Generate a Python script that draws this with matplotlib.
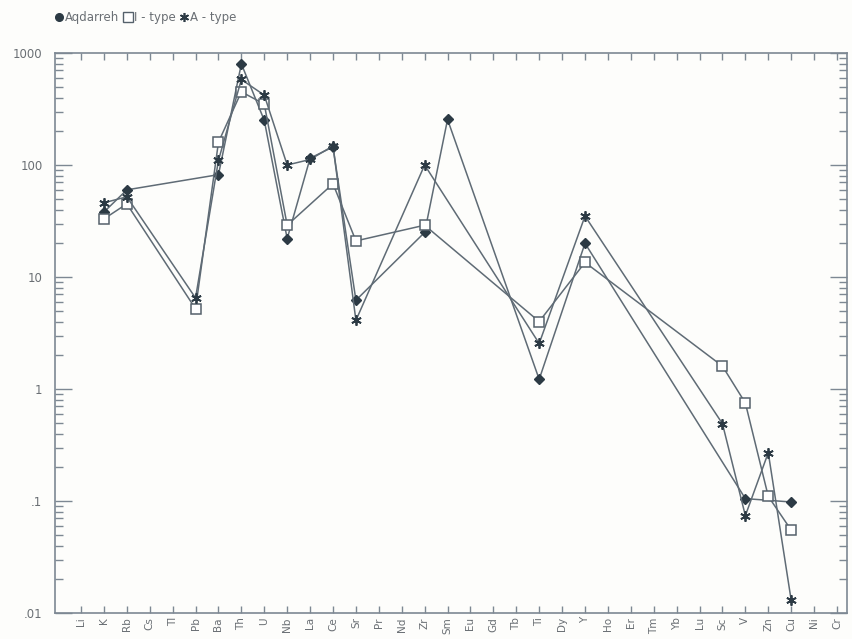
import numpy as np
import matplotlib
matplotlib.use("Agg")
import matplotlib.pyplot as plt
from matplotlib.lines import Line2D
from matplotlib.ticker import LogLocator, FixedLocator, NullFormatter

elements = ['Li', 'K', 'Rb', 'Cs', 'Tl', 'Pb', 'Ba', 'Th', 'U', 'Nb', 'La', 'Ce', 'Sr',
            'Pr', 'Nd', 'Zr', 'Sm', 'Eu', 'Gd', 'Tb', 'Ti', 'Dy', 'Y', 'Ho', 'Er', 'Tm',
            'Yb', 'Lu', 'Sc', 'V', 'Zn', 'Cu', 'Ni', 'Cr']

aqdarreh_el = ['K', 'Rb', 'Ba', 'Th', 'U', 'Nb', 'La', 'Ce', 'Sr', 'Zr', 'Sm', 'Ti', 'Y', 'V', 'Cu']
aqdarreh_val = [38, 60, 82, 800, 250, 22, 115, 145, 6.2, 25, 255, 1.22, 20, 0.105, 0.098]

itype_el = ['K', 'Rb', 'Pb', 'Ba', 'Th', 'U', 'Nb', 'Ce', 'Sr', 'Zr', 'Ti', 'Y', 'Sc', 'V', 'Zn', 'Cu']
itype_val = [33, 45, 5.2, 160, 450, 350, 29, 68, 21, 29, 4.0, 13.5, 1.6, 0.75, 0.11, 0.055]

atype_el = ['K', 'Rb', 'Pb', 'Ba', 'Th', 'U', 'Nb', 'La', 'Ce', 'Sr', 'Zr', 'Ti', 'Y', 'Sc', 'V', 'Zn', 'Cu']
atype_val = [46, 52, 6.5, 110, 580, 420, 100, 112, 148, 4.1, 100, 2.55, 35, 0.49, 0.074, 0.27, 0.013]

ytick_vals = [0.01, 0.1, 1, 10, 100, 1000]
ytick_labels = ['.01', '.1', '1', '10', '100', '1000']

LINE = '#5f6b75'
DARK = '#2c3a44'
FRAME = '#7d8893'
TEXT = '#6a6f74'

fig = plt.figure(figsize=(8.53, 6.39), dpi=100, facecolor='#fdfdfb')
ax = fig.add_axes([55/853, 1-613/639, 792/853, 560/639])
ax.set_facecolor('#fdfdfb')

pos = {e: i for i, e in enumerate(elements)}

def xs(els):
    return [pos[e] for e in els]

ax.plot(xs(aqdarreh_el), aqdarreh_val, color=LINE, lw=1.1, marker='D', ms=5.5,
        mfc=DARK, mec=DARK, zorder=3)
ax.plot(xs(itype_el), itype_val, color=LINE, lw=1.1, marker='s', ms=6.5,
        mfc='white', mec='#55616b', mew=1.1, zorder=3)
ax.plot(xs(atype_el), atype_val, color=LINE, lw=1.1, marker=(6, 2, 0), ms=7.5,
        mfc=DARK, mec=DARK, mew=1.3, zorder=4)

ax.set_yscale('log')
ax.set_ylim(0.01, 1000)
ax.set_xlim(-(81-55)/22.9, 33 + (847-837)/22.9)

ax.set_xticks(range(len(elements)))
ax.set_xticklabels(elements, rotation=90, fontsize=7.5, color=TEXT)
ax.yaxis.set_major_locator(FixedLocator(ytick_vals))
ax.set_yticklabels(ytick_labels, fontsize=8.5, color=TEXT)
ax.yaxis.set_minor_locator(LogLocator(base=10, subs=np.arange(2, 10), numticks=20))
ax.yaxis.set_minor_formatter(NullFormatter())

ax.tick_params(axis='x', which='both', direction='in', top=True, bottom=True,
               length=5, width=1, color=FRAME, pad=3)
ax.tick_params(axis='y', which='major', direction='in', left=True, right=True,
               length=12, width=1, color=FRAME, pad=9)
ax.tick_params(axis='y', which='minor', direction='in', left=True, right=True,
               length=6, width=1, color=FRAME)
for s in ax.spines.values():
    s.set_color(FRAME)
    s.set_linewidth(1.2)

handles = [
    Line2D([], [], ls='none', marker='o', ms=5.5, mfc=DARK, mec=DARK),
    Line2D([], [], ls='none', marker='s', ms=6.5, mfc='white', mec='#55616b'),
    Line2D([], [], ls='none', marker=(6, 2, 0), ms=6.5, mfc=DARK, mec=DARK, mew=1.2),
]
leg = fig.legend(handles, ['Aqdarreh', 'I - type', 'A - type'], ncol=3,
                 loc='upper left', bbox_to_anchor=(50/853, 1-6/639), frameon=False,
                 handlelength=0.7, handletextpad=0.15, columnspacing=0.4,
                 fontsize=8.5, borderaxespad=0)
for t in leg.get_texts():
    t.set_color(TEXT)

fig.savefig('out.png', dpi=100, facecolor=fig.get_facecolor())
